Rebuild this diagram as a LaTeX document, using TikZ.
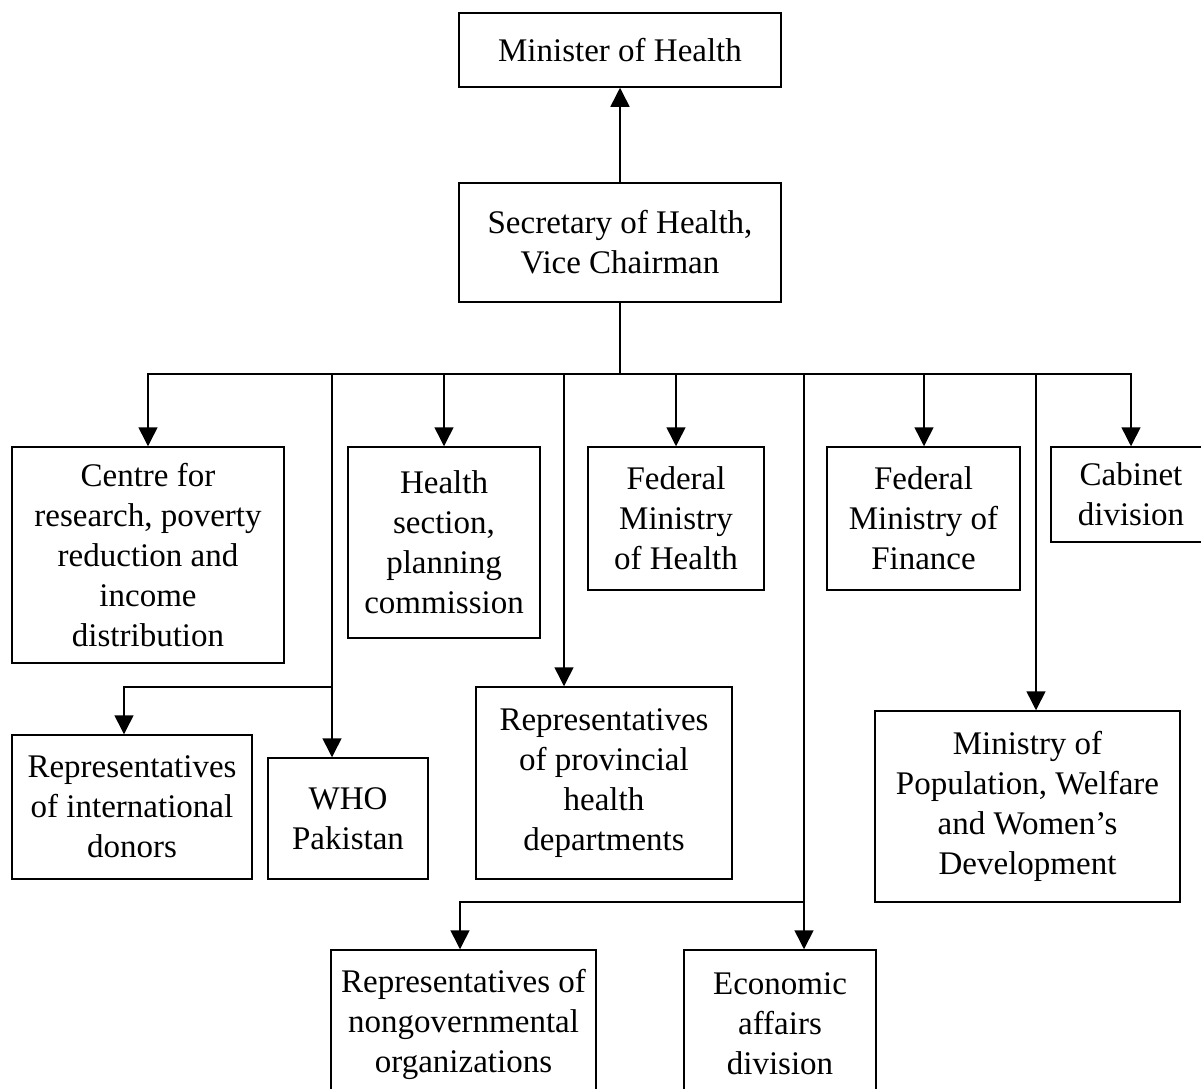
\documentclass[tikz,border=0pt]{standalone}
\usepackage{fontspec}
\setmainfont{Liberation Serif}
\usetikzlibrary{arrows.meta}
\begin{document}
\begin{tikzpicture}[x=1pt,y=-1pt,
  box/.style={draw, line width=1.5pt, align=center, inner sep=0pt, font=\fontsize{33}{40}\selectfont},
  link/.style={line width=1.5pt, line cap=rect},
  arr/.style={line width=1.5pt, -{Triangle[width=19pt,length=19pt]}}]
\useasboundingbox (0,0) rectangle (1201,1088);
% boxes
\node[box, minimum width=322pt, minimum height=74pt]  (min)    at (620,50)      {Minister of Health};
\node[box, minimum width=322pt, minimum height=119pt] (sec)    at (620,242.5)   {Secretary of Health,\\Vice Chairman};
\node[box, minimum width=272pt, minimum height=216pt] (centre) at (148,555)     {Centre for\\research, poverty\\reduction and\\income\\distribution};
\node[box, minimum width=192pt, minimum height=191pt] (hsec)   at (444,542.5)   {Health\\section,\\planning\\commission};
\node[box, minimum width=176pt, minimum height=143pt] (fmh)    at (676,518.5)   {Federal\\Ministry\\of Health};
\node[box, minimum width=193pt, minimum height=143pt] (fmf)    at (923.5,518.5) {Federal\\Ministry of\\Finance};
\node[box, minimum width=160pt, minimum height=95pt]  (cab)    at (1131,494.5)  {Cabinet\\division};
\node[box, minimum width=240pt, minimum height=144pt] (donors) at (132,807)     {Representatives\\of international\\donors};
\node[box, minimum width=160pt, minimum height=121pt] (who)    at (348,818.5)   {WHO\\Pakistan};
\node[box, minimum width=256pt, minimum height=192pt] (prov)   at (604,783)     {Representatives\\of provincial\\health\\departments};
\node[box, minimum width=305pt, minimum height=191pt] (pop)    at (1027.5,806.5){Ministry of\\Population, Welfare\\and Women’s\\Development};
\node[box, minimum width=265pt, minimum height=148pt] (ngo)    at (463.5,1024)  {Representatives of\\nongovernmental\\organizations};
\node[box, minimum width=192pt, minimum height=148pt] (eco)    at (780,1024)    {Economic\\affairs\\division};
% bus coordinates
\coordinate (bus) at (620,374);
\coordinate (bL) at (148,374);
\coordinate (bR) at (1131,374);
\coordinate (b2) at (332,374);
\coordinate (b3) at (444,374);
\coordinate (b4) at (564,374);
\coordinate (b5) at (676,374);
\coordinate (b6) at (804,374);
\coordinate (b7) at (924,374);
\coordinate (b8) at (1036,374);
\coordinate (j1) at (332,687);
\coordinate (d1) at (124,687);
\coordinate (j2) at (804,902);
\coordinate (n1) at (460,902);
% connectors
\draw[arr] (sec.north) -- (min.south);
\draw[link] (sec.south) -- (bus);
\draw[link] (bL) -- (bR);
\draw[arr] (bL) -- (centre.north);
\draw[arr] (b2) -- (b2 |- who.north);
\draw[arr] (j1) -- (d1) -- (d1 |- donors.north);
\draw[arr] (b3) -- (hsec.north);
\draw[arr] (b4) -- (b4 |- prov.north);
\draw[arr] (b5) -- (fmh.north);
\draw[arr] (b6) -- (b6 |- eco.north);
\draw[arr] (j2) -- (n1) -- (n1 |- ngo.north);
\draw[arr] (b7) -- (b7 |- fmf.north);
\draw[arr] (b8) -- (b8 |- pop.north);
\draw[arr] (bR) -- (cab.north);
\end{tikzpicture}
\end{document}
